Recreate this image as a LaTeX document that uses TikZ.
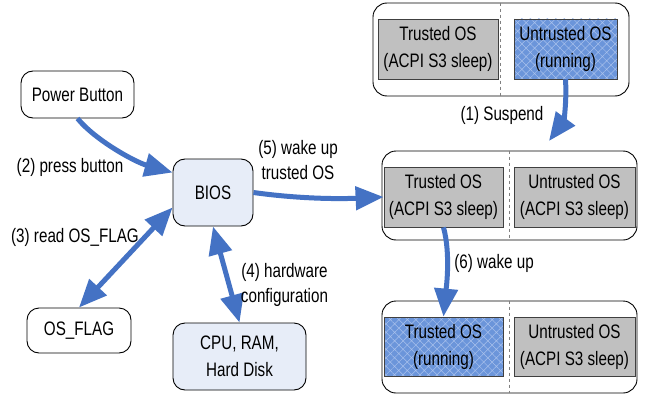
\documentclass[tikz,border=0pt]{standalone}
\usepackage{fontspec}
\setmainfont{Liberation Sans}[FakeStretch=0.78]
\usetikzlibrary{arrows.meta,patterns.meta,calc}
\definecolor{arrowblue}{HTML}{4472C4}
\definecolor{biosfill}{HTML}{E7EDF8}
\definecolor{grayfill}{HTML}{C0C0C0}
\definecolor{grayline}{HTML}{404040}
\definecolor{runfill}{HTML}{6B95DA}
\definecolor{runhatch}{HTML}{A9C1EC}
\begin{document}
\begin{tikzpicture}[x=1pt,y=-1pt,
  every node/.style={font=\fontsize{19.5}{27}\selectfont, inner sep=0pt, align=center},
  rbox/.style={draw=black, line width=0.9pt, rounded corners=12pt},
  whitebox/.style={rbox, fill=white},
  bluebox/.style={rbox, fill=biosfill},
  group/.style={draw=black, line width=0.9pt, rounded corners=14pt},
  grayb/.style={draw=grayline, line width=0.8pt, fill=grayfill},
  runb/.style={draw=grayline, line width=0.8pt, preaction={fill=runfill},
    pattern={Hatch[angle=45,distance=6pt,line width=0.5pt]}, pattern color=runhatch},
  divline/.style={draw=gray, dashed, line width=0.7pt},
  arr/.style={draw=arrowblue, line width=5pt, -{Triangle[length=28pt,width=23pt]}},
  darr/.style={draw=arrowblue, line width=5pt, {Triangle[length=28pt,width=23pt]}-{Triangle[length=28pt,width=23pt]}},
  lbl/.style={font=\fontsize{19.5}{25}\selectfont}
]
\path[fill=white] (0,0) rectangle (645,396);
\useasboundingbox (0,0) rectangle (645,396);

% left side nodes
\node[whitebox, minimum width=113pt, minimum height=47pt] (pb) at (77.5,94.5) {Power Button};
\node[bluebox, minimum width=80pt, minimum height=67pt] (bios) at (213,192.5) {BIOS};
\node[whitebox, minimum width=104pt, minimum height=45pt] (osflag) at (79,330.5) {OS\_FLAG};
\node[bluebox, minimum width=133pt, minimum height=67pt] (cpu) at (239.5,356.5) {CPU, RAM,\\Hard Disk};

% top group
\node[group, minimum width=256pt, minimum height=93pt] (g1) at (501,49.5) {};
\draw[divline] (500,0 |- g1.north) -- (500,0 |- g1.south);
\node[grayb, minimum width=120pt, minimum height=60pt] (t1) at (438,49) {Trusted OS\\(ACPI S3 sleep)};
\node[runb, minimum width=103pt, minimum height=60pt] (u1) at (565.5,49) {Untrusted OS\\(running)};

% middle group
\node[group, minimum width=255pt, minimum height=89pt] (g2) at (509.5,195.5) {};
\draw[divline] (509,0 |- g2.north) -- (509,0 |- g2.south);
\node[grayb, minimum width=119pt, minimum height=60pt] (t2) at (443.5,197) {Trusted OS\\(ACPI S3 sleep)};
\node[grayb, minimum width=121pt, minimum height=60pt] (u2) at (574.5,197) {Untrusted OS\\(ACPI S3 sleep)};

% bottom group
\node[group, minimum width=255pt, minimum height=92pt] (g3) at (509.5,347) {};
\draw[divline] (509,0 |- g3.north) -- (509,0 |- g3.south);
\node[runb, minimum width=119pt, minimum height=59pt] (t3) at (443.5,346.5) {Trusted OS\\(running)};
\node[grayb, minimum width=121pt, minimum height=59pt] (u3) at (574.5,346.5) {Untrusted OS\\(ACPI S3 sleep)};

% arrows
\coordinate (susptip) at (549,141);
\draw[arr] (u1.south) .. controls (567,105) and (563,122) .. (susptip);
\draw[arr] (pb.south) .. controls (95,140) and (135,162) .. ($(bios.west)+(0,-20)$);
\draw[darr] ($(bios.west)+(0,15)$) -- (osflag.north);
\draw[darr] (bios.south) -- (cpu.north);
\draw[arr] (bios.east) .. controls (300,199) and (340,199) .. (t2.west);
\draw[arr] (t2.south) .. controls (451,255) and (446,290) .. (t3.north);

% labels
\node[lbl] (l1) at (502,115) {(1) Suspend};
\node[lbl] (l2) at (70,167) {(2) press button};
\node[lbl] (l3) at (75,237) {(3) read OS\_FLAG};
\node[lbl] (l4) at (284.5,285) {(4) hardware\\configuration};
\node[lbl] (l5) at (298,160) {(5) wake up\\trusted OS};
\node[lbl] (l6) at (494,263) {(6) wake up};
\end{tikzpicture}
\end{document}
